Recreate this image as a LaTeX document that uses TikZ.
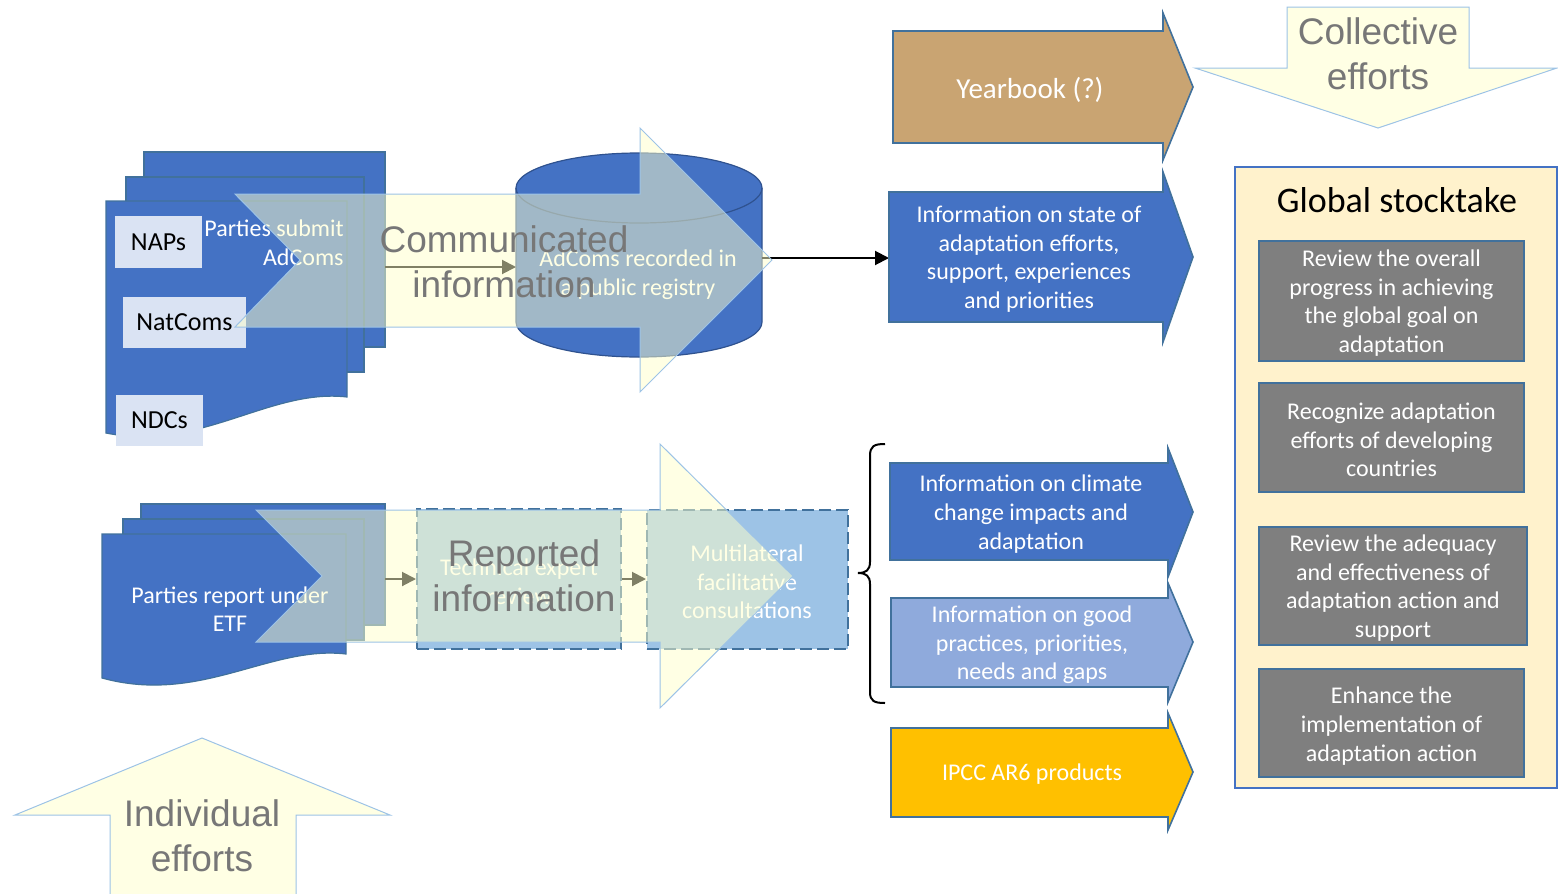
\documentclass[tikz,border=0pt]{standalone}
\usepackage{fontspec}
\setmainfont{Carlito}
\newfontfamily\arialf{Liberation Sans}
\usetikzlibrary{arrows.meta}
\definecolor{docblue}{HTML}{4472C4}
\definecolor{docedge}{HTML}{41719C}
\definecolor{lightbox}{HTML}{DAE3F3}
\definecolor{veilfill}{HTML}{FFFFCA}
\definecolor{veiledge}{HTML}{9DC3E6}
\definecolor{biggray}{HTML}{777777}
\definecolor{yearbrown}{HTML}{C9A472}
\definecolor{paleblue}{HTML}{8FAADC}
\definecolor{ipccgold}{HTML}{FFC000}
\definecolor{gstfill}{HTML}{FFF2CC}
\definecolor{gstedge}{HTML}{4472C4}
\definecolor{boxgray}{HTML}{7F7F7F}
\definecolor{dashblue}{HTML}{9DC3E6}
\definecolor{cyledge}{HTML}{2F528F}
\begin{document}
\begin{tikzpicture}[x=0.5pt,y=-0.5pt,
  docpage/.style={fill=docblue, draw=docedge, line width=0.6pt},
  lbl/.style={fill=lightbox, inner sep=0pt, font=\fontsize{13}{15}\selectfont, text=black},
  veil/.style={fill=veilfill, fill opacity=0.5, draw=veiledge, line width=0.5pt},
  bigtxt/.style={font=\arialf\fontsize{18.5}{22.5}\selectfont, text=biggray, align=center, inner sep=0pt},
  wtxt/.style={font=\fontsize{12}{14.3}\selectfont, text=white, align=center, inner sep=0pt, yshift=-1pt},
  rarrow/.style={draw=docedge, line width=0.8pt},
  gbox/.style={fill=boxgray, draw=docedge, line width=1pt, inner sep=0pt},
  gtxt/.style={text=white, align=center, inner sep=0pt, font=\fontsize{12}{14.3}\selectfont},
  dbox/.style={fill=dashblue, draw=docedge, line width=1pt, dash pattern=on 6pt off 2.5pt, inner sep=0pt},
  conn/.style={-{Triangle[length=7pt,width=7pt]}, line width=1pt, black}
]
\useasboundingbox (0,0) rectangle (1558,894);

% ---- individual / collective efforts arrows
\path[veil] (110,900) -- (110,815) -- (15,815) -- (202,738) -- (390,815) -- (296,815) -- (296,900);
\node[bigtxt] (indiv) at (202,836) {Individual\\efforts};
\path[veil] (1287,7) -- (1469,7) -- (1469,68) -- (1557,68) -- (1378,128) -- (1195,68) -- (1287,68) -- cycle;
\node[bigtxt] (coll) at (1378,54) {Collective\\efforts};

% ---- top document stack
\path[docpage] (144,152) rectangle (385,347);
\path[docpage] (126,177) rectangle (364,372);
\path[docpage] (106,201) -- (347,201) -- (347,397) .. controls (270,388) and (200,452) .. (106,433) -- cycle;
\node[lbl, minimum width=43.5pt, minimum height=26pt] (naps) at (158.5,242) {NAPs};
\node[lbl, minimum width=61.5pt, minimum height=25.5pt] (natcoms) at (184.5,322.5) {NatComs};
\node[lbl, minimum width=43.5pt, minimum height=25.5pt] (ndcs) at (159.5,420.5) {NDCs};
\node[wtxt, align=right, anchor=east] (psub) at (344,241) {Parties submit\\AdComs};

% ---- cylinder
\path[fill=docblue, draw=cyledge, line width=0.6pt] (516,188) -- (516,322)
  arc[start angle=180, end angle=0, x radius=123, y radius=35] -- (762,188)
  arc[start angle=0, end angle=-180, x radius=123, y radius=35] -- cycle;
\draw[cyledge, line width=0.6pt] (516,188) arc[start angle=180, end angle=0, x radius=123, y radius=35];
\node[wtxt] (registry) at (638,273) {AdComs recorded in\\a public registry};
\coordinate (docR) at (385,267);
\coordinate (cylL) at (516,267);
\coordinate (cylR) at (762,258);
\coordinate (stateL) at (889,258);
\draw[conn] (docR) -- (cylL);
\draw[conn] (cylR) -- (stateL);

% ---- top veil arrow
\path[veil] (235,194) -- (640,194) -- (640,128) -- (772,260) -- (640,392) -- (640,327) -- (235,327) -- (300,260) -- cycle;
\node[bigtxt] (comm) at (504,262) {Communicated\\information};

% ---- bottom document stack
\path[docpage] (141,504) rectangle (385,625);
\path[docpage] (123,519) rectangle (364,640);
\path[docpage] (102,534) -- (346,534) -- (346,654) .. controls (270,645) and (200,705) .. (102,678) -- cycle;
\node[wtxt] (preport) at (230,607) {Parties report under\\ETF};
\node[dbox, minimum width=102pt, minimum height=70pt] (ter) at (519,579) {};
\node[wtxt] (tertxt) at (519,580) {Technical expert\\review};
\node[dbox, minimum width=100.5pt, minimum height=69.5pt] (mfc) at (747.5,579.5) {};
\node[wtxt] (mfctxt) at (747,580) {Multilateral\\facilitative\\consultations};
\coordinate (docR2) at (385,579);
\draw[conn] (docR2) -- (ter.west |- docR2);
\draw[conn] (ter.east |- docR2) -- (mfc.west |- docR2);

% ---- bottom veil arrow
\path[veil] (256,510) -- (660,510) -- (660,444) -- (793,576) -- (660,708) -- (660,642) -- (256,642) -- (322,576) -- cycle;
\node[bigtxt] (rep) at (524,576) {Reported\\information};

% ---- right column arrows
\path[rarrow, fill=yearbrown] (893,31) -- (1163,31) -- (1163,13) -- (1193,87) -- (1163,160) -- (1163,143) -- (893,143) -- cycle;
\node[wtxt, font=\fontsize{14.5}{17}\selectfont] (year) at (1030,88) {Yearbook (?)};
\path[rarrow, fill=docblue] (889,192) -- (1163,192) -- (1163,172) -- (1193,257) -- (1163,342) -- (1163,322) -- (889,322) -- cycle;
\node[wtxt] (state) at (1029,257) {Information on state of\\adaptation efforts,\\support, experiences\\and priorities};
\path[rarrow, fill=docblue] (890,463) -- (1168,463) -- (1168,448) -- (1193,512) -- (1168,577) -- (1168,560) -- (890,560) -- cycle;
\node[wtxt] (climate) at (1031,512) {Information on climate\\change impacts and\\adaptation};
\path[rarrow, fill=paleblue] (891,598) -- (1168,598) -- (1168,583) -- (1193,642) -- (1168,702) -- (1168,687) -- (891,687) -- cycle;
\node[wtxt] (good) at (1032,643) {Information on good\\practices, priorities,\\needs and gaps};
\path[rarrow, fill=ipccgold] (891,728) -- (1168,728) -- (1168,713) -- (1193,772) -- (1168,830) -- (1168,817) -- (891,817) -- cycle;
\node[wtxt] (ipcc) at (1032,772) {IPCC AR6 products};

% ---- brace
\draw[line width=1pt] (885,444) .. controls (874,444) and (870,446) .. (870,456) -- (870,562)
  .. controls (870,570) and (866,573) .. (858,573)
  .. controls (866,573) and (870,576) .. (870,584) -- (870,692)
  .. controls (870,701) and (874,703) .. (885,703);

% ---- global stocktake
\path[fill=gstfill, draw=gstedge, line width=0.6pt] (1235,167) rectangle (1557,788);
\node[font=\fontsize{18}{22}\selectfont, text=black] (gst) at (1397,200) {Global stocktake};
\node[gbox, minimum width=132.5pt, minimum height=60pt] (g1) at (1391.5,301) {};
\node[gtxt] (g1t) at (1391.5,303) {Review the overall\\progress in achieving\\the global goal on\\adaptation};
\node[gbox, minimum width=132.5pt, minimum height=54.5pt] (g2) at (1391.5,437.5) {};
\node[gtxt] (g2t) at (1391.5,440) {Recognize adaptation\\efforts of developing\\countries};
\node[gbox, minimum width=134pt, minimum height=59pt] (g3) at (1393,586) {};
\node[gtxt] (g3t) at (1393,588) {Review the adequacy\\and effectiveness of\\adaptation action and\\support};
\node[gbox, minimum width=132.5pt, minimum height=54pt] (g4) at (1391.5,723) {};
\node[gtxt] (g4t) at (1391.5,726) {Enhance the\\implementation of\\adaptation action};
\end{tikzpicture}
\end{document}
